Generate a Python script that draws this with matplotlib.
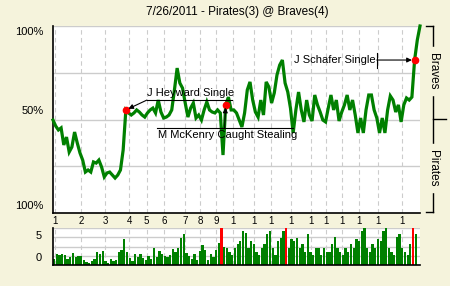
import matplotlib
matplotlib.use('Agg')
import matplotlib.pyplot as plt
from matplotlib.lines import Line2D
import numpy as np

plt.rcParams['font.family'] = ['Liberation Sans', 'DejaVu Sans']

TITLE = '7/26/2011 - Pirates(3) @ Braves(4)'

# Braves win probability (%) after each play
wp = [49.7, 46.5, 44.4, 45.5, 36.4, 40.6, 32.6, 35.3, 43.3, 37.4, 32.1, 28.3, 21.9, 23.0,
      21.9, 27.3, 26.7, 28.3, 24.6, 19.3, 21.4, 21.9, 20.3, 18.7, 20.3, 23.0, 33.7, 55.1,
      53.5, 52.4, 53.5, 55.1, 54.0, 52.4, 51.3, 53.5, 55.1, 56.1,
      53.5, 60.4, 54.0, 50.8, 51.3, 52.4, 55.1, 65.8, 77.5, 69.5,
      66.8, 58.8, 51.3, 56.1, 58.8, 50.8, 52.4, 49.7, 55.1, 59.4,
      55.1, 54.0, 53.5, 55.1, 53.5, 31.0, 57.8, 62.0, 55.1, 55.1,
      53.5, 49.7, 46.0, 53.5, 65.8, 70.1, 60.4, 54.0, 51.3, 60.4,
      52.4, 70.1, 67.4, 58.8, 64.2, 73.8, 79.1, 81.8, 69.5, 64.7,
      56.1, 42.8, 55.1,
      64.7, 55.1, 48.7, 60.4, 52.4, 49.2, 63.1, 57.8, 54.0, 49.7,
      48.7, 56.1, 63.1, 55.1, 60.4, 49.2, 54.0, 57.8, 63.1, 55.1,
      60.4, 52.4, 42.8, 50.8, 42.8, 55.1, 63.1, 63.1, 55.1, 50.8,
      42.8, 50.8, 42.8, 55.1, 62.6, 60.4, 54.0, 57.8, 48.7, 57.8,
      61.5, 60.4, 62.0, 81.8, 92.5, 100.0]

# leverage of each play (bottom strip)
lev = [0.7, 1.2, 1.1, 1.2, 1.1, 0.6, 0.9, 1.3, 0.9, 1.0, 1.0,
       0.5, 0.3, 0.2, 0.4, 0.7, 1.4, 1.2, 1.5, 0.4, 0.2,
       0.7, 0.4, 0.5, 1.4, 1.6, 2.8, 1.4, 0.8, 0.4, 1.2,
       0.9, 1.2, 0.8, 0.5, 1.0, 0.7, 1.8, 0.9, 1.5, 1.2,
       1.0, 0.9, 1.1, 1.7, 1.4, 1.8, 2.9, 3.4, 1.3, 1.0,
       0.6, 1.2, 0.5, 1.5, 2.2, 1.6, 0.5, 1.2, 0.9, 1.6, 2.4,
       6.0,
       1.9, 1.8, 1.4, 1.1, 1.8, 2.3, 2.6, 3.7, 3.5, 1.8, 2.6, 2.3,
       1.4, 1.1, 1.8, 2.3, 3.4, 3.7, 1.8, 1.1, 2.6, 2.9, 3.7,
       6.0,
       1.8, 2.8, 2.6, 2.9, 1.8, 2.3, 1.4, 3.4, 1.4, 1.1, 1.8, 1.8,
       1.1, 1.8, 1.4, 1.4, 2.3, 3.0, 1.8, 1.4, 1.1, 1.8, 1.4, 2.3,
       1.8, 2.8, 2.6, 3.7, 3.95, 1.8, 1.4, 2.3, 1.8, 2.8, 2.6, 3.7,
       3.95, 1.8, 1.4, 1.1, 3.0, 3.4, 1.8, 1.4, 1.1, 2.3,
       6.0, 3.35]

inning_pos = [0.7, 10.3, 19.3, 28.3, 34.7, 41.1, 48.9, 54.5, 60.4, 66.8,
              74.5, 80.7, 88.1, 95.5, 101.1, 107.0, 113.5, 120.5, 129.2]
inning_lbl = ['1', '2', '3', '4', '5', '6', '7', '8', '9',
              '1', '1', '1', '1', '1', '1', '1', '1', '1', '1']

# key plays: (play index, text)
events = [(27, 'J Heyward Single'), (64, 'M McKenry Caught Stealing'), (134, 'J Schafer Single')]

BG = '#f5f3dc'
GREEN = '#008000'
W, H = 450, 286
XMAX = 136


def fx(px):
    return px / W


def fy(py):
    return 1 - py / H


fig = plt.figure(figsize=(4.5, 2.86), dpi=100, facecolor=BG)
ax = fig.add_axes([fx(53), fy(213), fx(420) - fx(53), fy(26) - fy(213)])
bx = fig.add_axes([fx(53), fy(265), fx(420) - fx(53), fy(228) - fy(265)])

##########################################
# win probability chart
x = np.arange(len(wp))
ax.set_xlim(0, XMAX)
ax.set_ylim(0, 100)
for p in inning_pos:
    ax.axvline(p, color='#cccccc', lw=0.8, ls=(0, (4, 3)), zorder=1)
for yv in [25, 50, 75]:
    ax.axhline(yv, color='#cccccc', lw=1, zorder=1)
ax.plot(x, wp, color=GREEN, lw=2.3, zorder=3, solid_joinstyle='miter', clip_on=False)

for s in ['top', 'right']:
    ax.spines[s].set_visible(False)
ax.spines['left'].set_linewidth(1.2)
ax.spines['bottom'].set_linewidth(1.2)
ax.axhline(100, color='#cccccc', lw=1, zorder=1)
ax.set_yticks([])
ax.set_xticks(inning_pos, inning_lbl)
ax.tick_params(axis='x', length=0, pad=2, labelsize=7)

for lbl, py in [('100%', 32), ('50%', 111), ('100%', 206)]:
    ax.text(-0.025, (213 - py) / 187, lbl, transform=ax.transAxes,
            ha='right', va='center', fontsize=8)

# red dots
for i, _ in events:
    ax.plot(i, wp[i], 'o', color='red', ms=4.5, zorder=5, clip_on=False)

arrow = dict(arrowstyle='-|>', color='black', lw=0.8, mutation_scale=7, shrinkA=0, shrinkB=2)

# Heyward
i, t = events[0]
ax.text(34.8, 61.5, t, fontsize=8, ha='left', va='bottom', zorder=6)
ax.plot([34.8, 66.3], [60.4, 60.4], color='black', lw=0.8, zorder=6)
ax.annotate('', xy=(i, wp[i]), xytext=(34.8, 60.4), arrowprops=arrow, zorder=6)

# McKenry
i, t = events[1]
ax.text(38.9, 44.5, t, fontsize=8, ha='left', va='top', zorder=6)
ax.plot([38.5, 88.9], [45.5, 45.5], color='black', lw=0.8, zorder=6)
ax.annotate('', xy=(i, wp[i]), xytext=(63.6, 45.5), arrowprops=arrow, zorder=6)

# Schafer
i, t = events[2]
ax.text(119.4, wp[i], t, fontsize=8, ha='right', va='center', zorder=6)
ax.plot([120, 120], [77.5, 85.6], color='black', lw=0.8, zorder=6)
ax.annotate('', xy=(i, wp[i]), xytext=(120, wp[i]), arrowprops=arrow, zorder=6)

ax.text((237 - 53) / 367, (213 - 12) / 187, TITLE,
        transform=ax.transAxes, ha='center', va='center', fontsize=8.5)

##########################################
# leverage strip
bx.set_xlim(0, XMAX)
bx.set_ylim(0, 4)
for p in inning_pos:
    bx.axvline(p, color='#cccccc', lw=0.8, ls=(0, (4, 3)), zorder=1)
for yv in [1, 2, 3, 4]:
    bx.axhline(yv, color='#cccccc', lw=1, zorder=1)
lev_arr = np.array(lev)
cols = ['red' if v > 4 else GREEN for v in lev_arr]
bx.bar(np.arange(len(lev)), np.minimum(lev_arr, 4), width=0.85, align='edge',
       color=cols, zorder=2)
for s in ['top', 'right']:
    bx.spines[s].set_visible(False)
bx.spines['left'].set_linewidth(1.2)
bx.spines['bottom'].set_linewidth(1.2)
bx.set_xticks([])
bx.set_yticks([])
bx.text(-0.03, (265 - 236) / 37, '5', transform=bx.transAxes, ha='right', va='center', fontsize=8)
bx.text(-0.03, (265 - 258) / 37, '0', transform=bx.transAxes, ha='right', va='center', fontsize=8)

##########################################
# team brackets on the right
def seg(x0, y0, x1, y1):
    fig.add_artist(Line2D([fx(x0), fx(x1)], [fy(y0), fy(y1)], color='black', lw=1))

seg(426, 26, 433, 26)
seg(433, 26, 433, 50)
seg(433, 92, 433, 148)
seg(433, 119, 446, 119)
seg(433, 187, 433, 212)
seg(426, 212, 433, 212)
fig.text(fx(433), fy(71), 'Braves', rotation=270, ha='center', va='center', fontsize=8.5,
         backgroundcolor=BG)
fig.text(fx(433), fy(168), 'Pirates', rotation=270, ha='center', va='center', fontsize=8.5,
         backgroundcolor=BG)

fig.savefig('out.png', dpi=100, facecolor=BG)
